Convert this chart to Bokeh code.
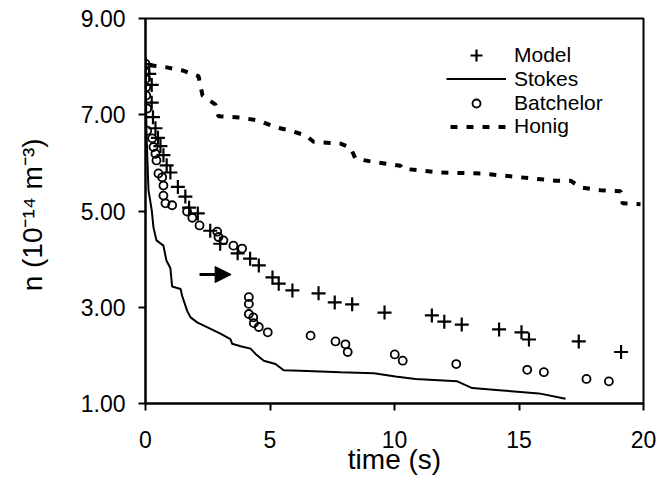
from bokeh.plotting import figure
from bokeh.models import Range1d, FixedTicker, Legend, LegendItem, Arrow, NormalHead
from bokeh.embed import file_html
from bokeh.resources import INLINE

# ---- data ----
model_t = [0.0, 0.15, 0.25, 0.25, 0.3, 0.4, 0.5, 0.6, 0.72, 0.85, 1.0, 1.3, 1.6, 1.75, 2.1,
           2.6, 3.0, 3.7, 4.2, 4.55, 5.1, 5.35, 5.9, 6.95, 7.6, 8.3, 9.6, 11.5, 12.0, 12.7,
           14.2, 15.1, 15.4, 17.4, 19.1]
model_n = [8.05, 7.85, 7.62, 7.25, 6.95, 6.72, 6.52, 6.35, 6.16, 5.95, 5.80, 5.50, 5.30, 5.07, 4.95,
           4.59, 4.32, 4.12, 4.01, 3.87, 3.62, 3.49, 3.35, 3.29, 3.10, 3.06, 2.89, 2.83, 2.70, 2.64,
           2.54, 2.48, 2.33, 2.29, 2.07]

batch_t = [0.0, 0.0, 0.02, 0.03, 0.03, 0.07, 0.07, 0.27, 0.32, 0.40, 0.44, 0.52, 0.67, 0.72, 0.72,
           0.80, 1.07, 1.67, 1.88, 2.17, 2.88, 2.93, 3.13, 3.53, 3.88, 4.15, 4.15, 4.15, 4.33, 4.35,
           4.55, 4.91, 6.63, 7.63, 8.03, 8.12, 10.01, 10.33, 12.48, 15.33, 16.0, 17.71, 18.61]
batch_n = [8.06, 7.88, 7.75, 7.57, 7.40, 7.13, 6.67, 6.51, 6.33, 6.19, 6.05, 5.78, 5.70, 5.53, 5.32,
           5.16, 5.12, 4.99, 4.86, 4.70, 4.57, 4.46, 4.39, 4.28, 4.22, 3.21, 3.07, 2.86, 2.79, 2.67,
           2.59, 2.48, 2.41, 2.29, 2.23, 2.07, 2.02, 1.89, 1.82, 1.70, 1.65, 1.51, 1.46]

stokes_t = [0.0, 0.04, 0.12, 0.25, 0.32, 0.44, 0.72, 0.84, 1.0, 1.07, 1.41, 1.47, 1.67, 1.81, 2.09,
            2.49, 3.01, 3.41, 3.48, 3.82, 4.22, 4.42, 4.75, 5.22, 5.55, 6.22, 7.83, 9.17, 10.04,
            10.84, 12.52, 13.12, 14.33, 15.80, 16.87]
stokes_n = [8.06, 6.61, 5.43, 5.02, 4.66, 4.39, 4.28, 3.97, 3.81, 3.43, 3.38, 3.24, 2.93, 2.79, 2.68,
            2.58, 2.45, 2.34, 2.24, 2.19, 2.14, 2.03, 1.89, 1.82, 1.69, 1.68, 1.65, 1.63, 1.56,
            1.51, 1.46, 1.32, 1.27, 1.21, 1.10]

honig_t = [0.0, 0.8, 1.49, 2.13, 2.29, 2.81, 2.93, 3.82, 4.54, 5.22, 5.82, 6.43, 6.75, 7.83, 8.23,
           8.43, 9.04, 10.24, 10.32, 11.85, 13.45, 15.06, 16.47, 17.07, 17.47, 18.27, 19.08, 19.16, 19.88]
honig_n = [8.04, 7.99, 7.92, 7.80, 7.40, 7.21, 6.97, 6.94, 6.88, 6.74, 6.67, 6.57, 6.44, 6.40, 6.32,
           6.09, 6.03, 5.94, 5.88, 5.80, 5.78, 5.70, 5.63, 5.63, 5.49, 5.43, 5.41, 5.16, 5.14]

arrow_t = [2.17, 3.44]
arrow_n = [3.68, 3.68]

x_ticks = [0, 5, 10, 15, 20]
x_tick_labels = ["0", "5", "10", "15", "20"]
y_ticks = [1, 3, 5, 7, 9]
y_tick_labels = ["1.00", "3.00", "5.00", "7.00", "9.00"]
legend_labels = ["Model", "Stokes", "Batchelor", "Honig"]

FONT = "Liberation Sans"

p = figure(width=670, height=482, output_backend="svg", toolbar_location=None,
           x_range=Range1d(0, 20), y_range=Range1d(1, 9),
           min_border_left=145, min_border_right=27, min_border_top=18, min_border_bottom=79)
p.background_fill_color = "white"
p.border_fill_color = "white"
p.grid.visible = False
p.outline_line_color = "black"
p.outline_line_width = 2
p.outline_line_alpha = 1

for ax in (p.xaxis[0], p.yaxis[0]):
    ax.axis_line_width = 2
    ax.axis_line_color = "black"
    ax.major_tick_line_width = 2
    ax.major_tick_line_color = "black"
    ax.major_tick_in = 0
    ax.major_tick_out = 7
    ax.minor_tick_line_color = None
    ax.major_label_text_font = FONT
    ax.major_label_text_font_size = "23px"
    ax.major_label_text_color = "black"
    ax.axis_label_text_font = FONT
    ax.axis_label_text_font_style = "normal"
    ax.axis_label_text_color = "black"
    ax.axis_label_text_font_size = "28px"

p.xaxis.ticker = FixedTicker(ticks=x_ticks)
p.yaxis.ticker = FixedTicker(ticks=y_ticks)
p.xaxis.major_label_overrides = dict(zip(x_ticks, x_tick_labels))
p.yaxis.major_label_overrides = dict(zip(y_ticks, y_tick_labels))
p.xaxis.major_label_standoff = 20
p.yaxis.major_label_standoff = 13
p.xaxis.axis_label = "time (s)"
p.yaxis.axis_label = "n  (10\u207b\u00b9\u2074 m\u207b\u00b3)"
p.xaxis.axis_label_standoff = -7
p.yaxis.axis_label_standoff = 30

r_honig = p.line(honig_t, honig_n, line_color="black", line_width=4, line_dash="7 9",
                 line_dash_offset=12)
r_stokes = p.line(stokes_t, stokes_n, line_color="black", line_width=2)
r_model = p.scatter(model_t, model_n, marker="cross", size=14, line_width=2.2, line_color="black")
r_batch = p.scatter(batch_t, batch_n, marker="circle", size=8, line_width=1.8,
                    line_color="black", fill_color=None)

p.add_layout(Arrow(x_start=arrow_t[0], y_start=arrow_n[0], x_end=arrow_t[1], y_end=arrow_n[1],
                   line_width=3, line_color="black",
                   end=NormalHead(size=16, fill_color="black", line_color="black", line_width=1)))

# one single-item legend per row, so the rows can sit as tightly as in the reference
row_centres = [348, 324.4, 300.8, 277.2]      # px above the bottom of the plot frame
glyph_heights = [30, 23, 20, 23]
for lab, rend, yc, gh in zip(legend_labels, [r_model, r_stokes, r_batch, r_honig],
                             row_centres, glyph_heights):
    h = max(gh, 24.6)
    lg = Legend(items=[LegendItem(label=lab, renderers=[rend])],
                location=(301, yc - h / 2))
    lg.border_line_color = None
    lg.background_fill_alpha = 0
    lg.padding = 0
    lg.margin = 0
    lg.spacing = 0
    lg.glyph_width = 60
    lg.glyph_height = gh
    lg.label_height = 20
    lg.label_standoff = 8
    lg.label_text_font = FONT
    lg.label_text_font_size = "21px"
    lg.label_text_color = "black"
    p.add_layout(lg)

open("out.html", "w").write(file_html(p, INLINE))
